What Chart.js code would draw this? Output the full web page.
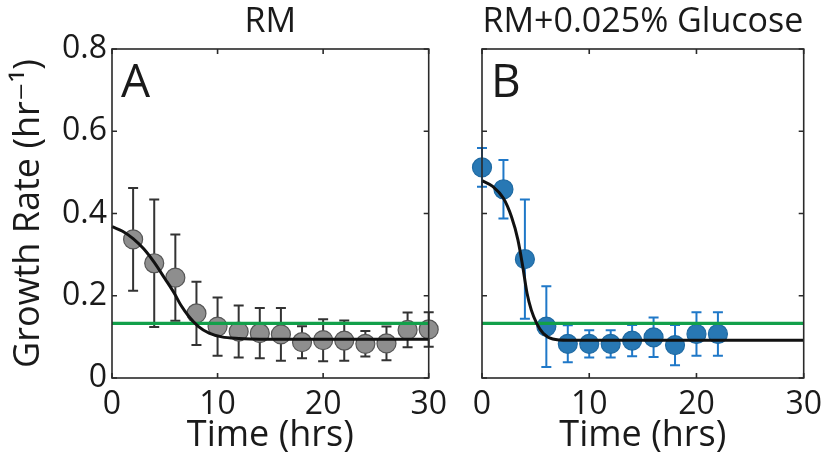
<!DOCTYPE html>
<html>
<head>
<meta charset="utf-8">
<script src="https://cdn.jsdelivr.net/npm/chart.js@4.4.1/dist/chart.umd.min.js"></script>
<style>
  html, body { margin: 0; padding: 0; background: #ffffff; }
  #wrap { position: relative; width: 830px; height: 457px; overflow: hidden; }
  #cA { position: absolute; left: 0; top: 0; }
  #cB { position: absolute; left: 460px; top: 0; }
</style>
</head>
<body>
<div id="wrap">
  <canvas id="cA" width="455" height="457"></canvas>
  <canvas id="cB" width="370" height="457"></canvas>
</div>
<script>
// ---- Data ----
const xTicks = [0, 10, 20, 30];
const yTicks = [0, 0.2, 0.4, 0.6, 0.8];

// Panel A: RM
const timeA = [2, 4, 6, 8, 10, 12, 14, 16, 18, 20, 22, 24, 26, 28, 30];
const rateA = [0.337, 0.279, 0.244, 0.157, 0.125, 0.113, 0.109, 0.106, 0.087, 0.092, 0.091, 0.083, 0.084, 0.117, 0.118];
const errA  = [0.125, 0.155, 0.105, 0.077, 0.071, 0.063, 0.061, 0.064, 0.039, 0.051, 0.049, 0.031, 0.041, 0.042, 0.042];
const fitTimeA = [0, 1, 2, 3, 4, 5, 5.9, 6.5, 7.3, 8.2, 9.2, 10.4, 12, 14, 30];
const fitRateA = [0.368, 0.357, 0.339, 0.314, 0.281, 0.242, 0.206, 0.178, 0.149, 0.125, 0.109, 0.100, 0.096, 0.094, 0.094];

// Panel B: RM+0.025% Glucose
const timeB = [0, 2, 4, 6, 8, 10, 12, 14, 16, 18, 20, 22];
const rateB = [0.512, 0.459, 0.289, 0.125, 0.083, 0.083, 0.083, 0.091, 0.099, 0.080, 0.107, 0.107];
const errB  = [0.047, 0.071, 0.145, 0.098, 0.045, 0.033, 0.033, 0.038, 0.048, 0.049, 0.053, 0.053];
const fitTimeB = [0, 1, 2, 2.75, 3.35, 3.8, 4.2, 4.6, 5.1, 5.7, 6.6, 8, 30];
const fitRateB = [0.480, 0.466, 0.437, 0.392, 0.336, 0.271, 0.206, 0.165, 0.133, 0.109, 0.095, 0.092, 0.092];

// Reference (green) level
const refTime = [0, 30];
const refRate = [0.133, 0.133];

const titles = ['RM', 'RM+0.025% Glucose'];
const letters = ['A', 'B'];

// ---- Helpers ----
const FONT = "'Open Sans', 'DejaVu Sans', sans-serif";
const TXT = '#1a1a1a';
const pts = (xs, ys) => xs.map((x, i) => ({ x: x, y: ys[i] }));

const panelPlugin = {
  id: 'panel',
  beforeDatasetsDraw(chart, args, opts) {
    const ctx = chart.ctx, xs = chart.scales.x, ys = chart.scales.y;
    chart.data.datasets.forEach(ds => {
      if (!ds.errorBars) return;
      ctx.save();
      ctx.strokeStyle = ds.errorColor;
      ctx.lineWidth = 2;
      ds.data.forEach((p, i) => {
        const e = ds.errorBars[i];
        const px = xs.getPixelForValue(p.x);
        const y1 = ys.getPixelForValue(p.y + e);
        const y0 = ys.getPixelForValue(p.y - e);
        const c = opts.cap;
        ctx.beginPath();
        ctx.moveTo(px, y0); ctx.lineTo(px, y1);
        ctx.moveTo(px - c, y1); ctx.lineTo(px + c, y1);
        ctx.moveTo(px - c, y0); ctx.lineTo(px + c, y0);
        ctx.stroke();
      });
      ctx.restore();
    });
  },
  afterDatasetsDraw(chart, args, opts) {
    const ctx = chart.ctx, a = chart.chartArea, xs = chart.scales.x, ys = chart.scales.y;
    ctx.save();
    ctx.strokeStyle = '#2a2a2a';
    ctx.lineWidth = 1.6;
    ctx.strokeRect(a.left, a.top, a.right - a.left, a.bottom - a.top);
    const L = 5;
    ctx.beginPath();
    xTicks.forEach(v => {
      const px = xs.getPixelForValue(v);
      ctx.moveTo(px, a.bottom); ctx.lineTo(px, a.bottom - L);
      ctx.moveTo(px, a.top); ctx.lineTo(px, a.top + L);
    });
    yTicks.forEach(v => {
      const py = ys.getPixelForValue(v);
      ctx.moveTo(a.left, py); ctx.lineTo(a.left + L, py);
      ctx.moveTo(a.right, py); ctx.lineTo(a.right - L, py);
    });
    ctx.stroke();
    ctx.fillStyle = TXT;
    ctx.font = "46px " + FONT;
    ctx.textBaseline = 'alphabetic';
    ctx.textAlign = 'left';
    ctx.fillText(opts.letter, a.left + 9, a.top + 48);
    ctx.restore();
  }
};

function makeChart(id, idx, time, rate, err, fitT, fitR, fill, edge, errColor, showY) {
  return new Chart(document.getElementById(id), {
    type: 'scatter',
    data: {
      datasets: [
        {
          type: 'line', data: pts(fitT, fitR), borderColor: '#111111', borderWidth: 3,
          pointRadius: 0, cubicInterpolationMode: 'monotone', order: 0, clip: false
        },
        {
          type: 'line', data: pts(refTime, refRate), borderColor: '#12a04a', borderWidth: 3.2,
          pointRadius: 0, order: 1
        },
        {
          data: pts(time, rate), backgroundColor: fill, borderColor: edge, borderWidth: 1.2,
          pointRadius: 9.5, order: 2, clip: false, errorBars: err, errorColor: errColor
        }
      ]
    },
    options: {
      responsive: false, animation: false, events: [],
      layout: { padding: showY ? { left: 0, right: 22, top: 0, bottom: 0 } : { left: 22, right: 26, top: 0, bottom: 0 } },
      plugins: {
        legend: { display: false }, tooltip: { enabled: false },
        title: {
          display: true, text: titles[idx], fullSize: false, color: TXT,
          font: { family: FONT, size: 34, weight: 'normal', lineHeight: 1.2 },
          padding: { top: 2, bottom: 6.2 }
        },
        panel: { letter: letters[idx], cap: 5 }
      },
      scales: {
        x: {
          type: 'linear', min: 0, max: 30,
          grid: { display: false, drawTicks: false }, border: { display: false },
          afterBuildTicks: s => { s.ticks = xTicks.map(v => ({ value: v })); },
          afterFit: s => { s.height = 79; },
          ticks: { color: TXT, padding: 8, font: { family: FONT, size: 32 }, maxRotation: 0, autoSkip: false },
          title: { display: true, text: 'Time (hrs)', color: TXT, padding: { top: 0, bottom: 0 },
                   font: { family: FONT, size: 36 } }
        },
        y: {
          type: 'linear', min: 0, max: 0.8,
          grid: { display: false, drawTicks: false }, border: { display: false },
          afterBuildTicks: s => { s.ticks = yTicks.map(v => ({ value: v })); },
          afterFit: s => { s.width = showY ? 112 : 0; },
          ticks: { display: showY, color: TXT, padding: 5, font: { family: FONT, size: 32 },
                   callback: v => (v === 0 ? '0' : v.toFixed(1)) },
          title: { display: showY, text: 'Growth Rate (hr\u207B\u00B9)', color: TXT,
                   padding: { top: 7.5, bottom: 0 }, font: { family: FONT, size: 36 } }
        }
      }
    },
    plugins: [panelPlugin]
  });
}

makeChart('cA', 0, timeA, rateA, errA, fitTimeA, fitRateA, '#8e8e8e', '#555555', '#333333', true);
makeChart('cB', 1, timeB, rateB, errB, fitTimeB, fitRateB, '#2878b4', '#1f6aa3', '#1f78c8', false);
</script>
</body>
</html>
